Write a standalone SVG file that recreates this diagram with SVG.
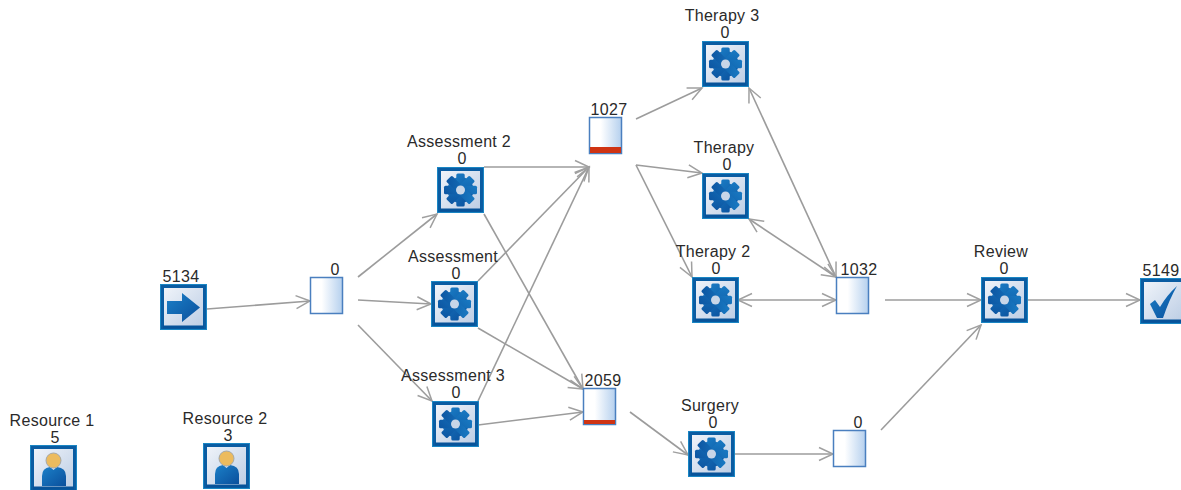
<svg xmlns="http://www.w3.org/2000/svg" xmlns:xlink="http://www.w3.org/1999/xlink" width="1181" height="490" viewBox="0 0 1181 490">
<style>
text{font-family:"Liberation Sans",Arial,sans-serif;font-size:16px;letter-spacing:.3px;fill:#2a2a2a;text-anchor:middle}
#connectors line{stroke:#9c9c9c;stroke-width:1.6;fill:none;marker-end:url(#arrow)}
#connectors line.both{marker-start:url(#arrow)}
.q{fill:url(#qfill);stroke:#4a7fbf;stroke-width:1.5}
.bar{fill:#cf3413}
</style>
<defs>
<marker id="arrow" markerUnits="userSpaceOnUse" markerWidth="18" markerHeight="16" refX="15" refY="8" orient="auto-start-reverse">
<path d="M1 1.5L15 8L1 14.500" fill="none" stroke="#a0a0a0" stroke-width="1.5"/>
</marker>
<linearGradient id="bg" x1="0" y1="0" x2="1" y2="1"><stop offset="0" stop-color="#f3f6fb"/><stop offset="1" stop-color="#b9cbe3"/></linearGradient>
<linearGradient id="qfill" x1="0" y1="0" x2="1" y2="0"><stop offset="0.35" stop-color="#ffffff"/><stop offset="1" stop-color="#b5d0ee"/></linearGradient>
<linearGradient id="blue" x1="0" y1="0" x2="1" y2="1"><stop offset="0" stop-color="#1b80c8"/><stop offset="1" stop-color="#0a4f9c"/></linearGradient>
<linearGradient id="gearfill" gradientUnits="userSpaceOnUse" x1="-14" y1="-14" x2="14" y2="14"><stop offset="0" stop-color="#1b80c8"/><stop offset="1" stop-color="#0a4f9c"/></linearGradient>
<g id="box">
<rect x="1" y="1" width="45" height="44" fill="url(#bg)" stroke="#1a86c4" stroke-width="2"/>
<rect x="2.500" y="2.500" width="42" height="41" fill="none" stroke="#0a5ca2" stroke-width="3"/>
<path d="M3 43H44" stroke="#07539a" stroke-width="3"/>
</g>
<g id="gear">
<use href="#box"/>
<g transform="translate(23.5 23)" fill="url(#gearfill)">
<circle r="13"/>
<rect x="-4.200" y="-16.500" width="8.400" height="33" rx="1.500"/>
<rect x="-4.200" y="-16.500" width="8.400" height="33" rx="1.500" transform="rotate(45)"/>
<rect x="-4.200" y="-16.500" width="8.400" height="33" rx="1.500" transform="rotate(90)"/>
<rect x="-4.200" y="-16.500" width="8.400" height="33" rx="1.500" transform="rotate(135)"/>
<circle r="4.500" fill="#c8d6e8"/>
</g>
</g>
<g id="person">
<use href="#box"/>
<path d="M12 41V31Q12 23 20 22L23.500 25L27 22Q36 23 36 31V41Z" fill="url(#blue)"/>
<circle cx="23.500" cy="15.500" r="7.500" fill="#ecbb5e" stroke="#a5a8a8"/>
</g>
</defs>

<g id="connectors">
<line x1="207" y1="309" x2="310" y2="301"/>
<line x1="358" y1="277" x2="437" y2="214"/>
<line x1="358" y1="300" x2="431" y2="304"/>
<line x1="358" y1="325" x2="432" y2="401"/>
<line x1="484" y1="167" x2="589" y2="167"/>
<line x1="478" y1="281" x2="589" y2="167"/>
<line x1="478" y1="401" x2="589" y2="167"/>
<line x1="484" y1="214" x2="583" y2="389"/>
<line x1="478" y1="328" x2="583" y2="389"/>
<line x1="478" y1="425" x2="583" y2="412"/>
<line x1="636" y1="119" x2="702" y2="88"/>
<line x1="636" y1="165" x2="702" y2="173"/>
<line x1="636" y1="165" x2="692" y2="277"/>
<line class="both" x1="836" y1="277" x2="749" y2="88"/>
<line class="both" x1="836" y1="277" x2="749" y2="219"/>
<line class="both" x1="836" y1="300" x2="738" y2="300"/>
<line x1="885" y1="300" x2="981" y2="300"/>
<line x1="1027" y1="300" x2="1140" y2="300"/>
<line x1="630" y1="412" x2="688" y2="455"/>
<line x1="735" y1="454" x2="833" y2="454"/>
<line x1="881" y1="430" x2="981" y2="325"/>
</g>

<g id="source"><use href="#box" x="160" y="284"/>
<path d="M167 301H182V293L200 307.500L182 322V314H167Z" fill="url(#blue)"/>
<text x="181" y="282">5134</text></g>

<g id="queue1"><rect class="q" x="310.500" y="277.500" width="32" height="36"/><text x="335" y="275">0</text></g>

<g id="assessment2"><use href="#gear" x="437" y="167"/><text x="459" y="147">Assessment 2</text><text x="462" y="164">0</text></g>
<g id="assessment"><use href="#gear" x="431" y="281"/><text x="453" y="262">Assessment</text><text x="456" y="279">0</text></g>
<g id="assessment3"><use href="#gear" x="432" y="401"/><text x="453" y="381">Assessment 3</text><text x="456" y="398">0</text></g>

<g id="queue1027"><rect class="q" x="589.500" y="117.500" width="32" height="36"/><rect class="bar" x="590" y="147" width="31" height="6"/><text x="609" y="115">1027</text></g>
<g id="queue2059"><rect class="q" x="583.500" y="388.500" width="32" height="36"/><rect class="bar" x="584" y="420" width="31" height="4"/><text x="603" y="386">2059</text></g>

<g id="therapy3"><use href="#gear" x="702" y="41"/><text x="722" y="21">Therapy 3</text><text x="725" y="38">0</text></g>
<g id="therapy"><use href="#gear" x="702" y="173"/><text x="724" y="153">Therapy</text><text x="727" y="170">0</text></g>
<g id="therapy2"><use href="#gear" x="692" y="277"/><text x="713" y="257">Therapy 2</text><text x="716" y="274">0</text></g>

<g id="queue1032"><rect class="q" x="836.500" y="277.500" width="32" height="36"/><text x="859" y="275">1032</text></g>

<g id="review"><use href="#gear" x="981" y="277"/><text x="1001" y="257">Review</text><text x="1004" y="274">0</text></g>

<g id="finish"><use href="#box" x="1140" y="278"/>
<path d="M1150 304L1155 300L1160 307Q1167 295 1177 286Q1169 300 1163 318H1157Z" fill="url(#blue)"/>
<text x="1161" y="276">5149</text></g>

<g id="surgery"><use href="#gear" x="688" y="431"/><text x="710" y="411">Surgery</text><text x="713" y="428">0</text></g>
<g id="queue-last"><rect class="q" x="833.500" y="430.500" width="32" height="36"/><text x="858" y="428">0</text></g>

<g id="resource1"><use href="#person" x="30" y="445"/><text x="52" y="426">Resource 1</text><text x="55" y="443">5</text></g>
<g id="resource2"><use href="#person" x="203" y="443"/><text x="225" y="424">Resource 2</text><text x="228" y="441">3</text></g>
</svg>
